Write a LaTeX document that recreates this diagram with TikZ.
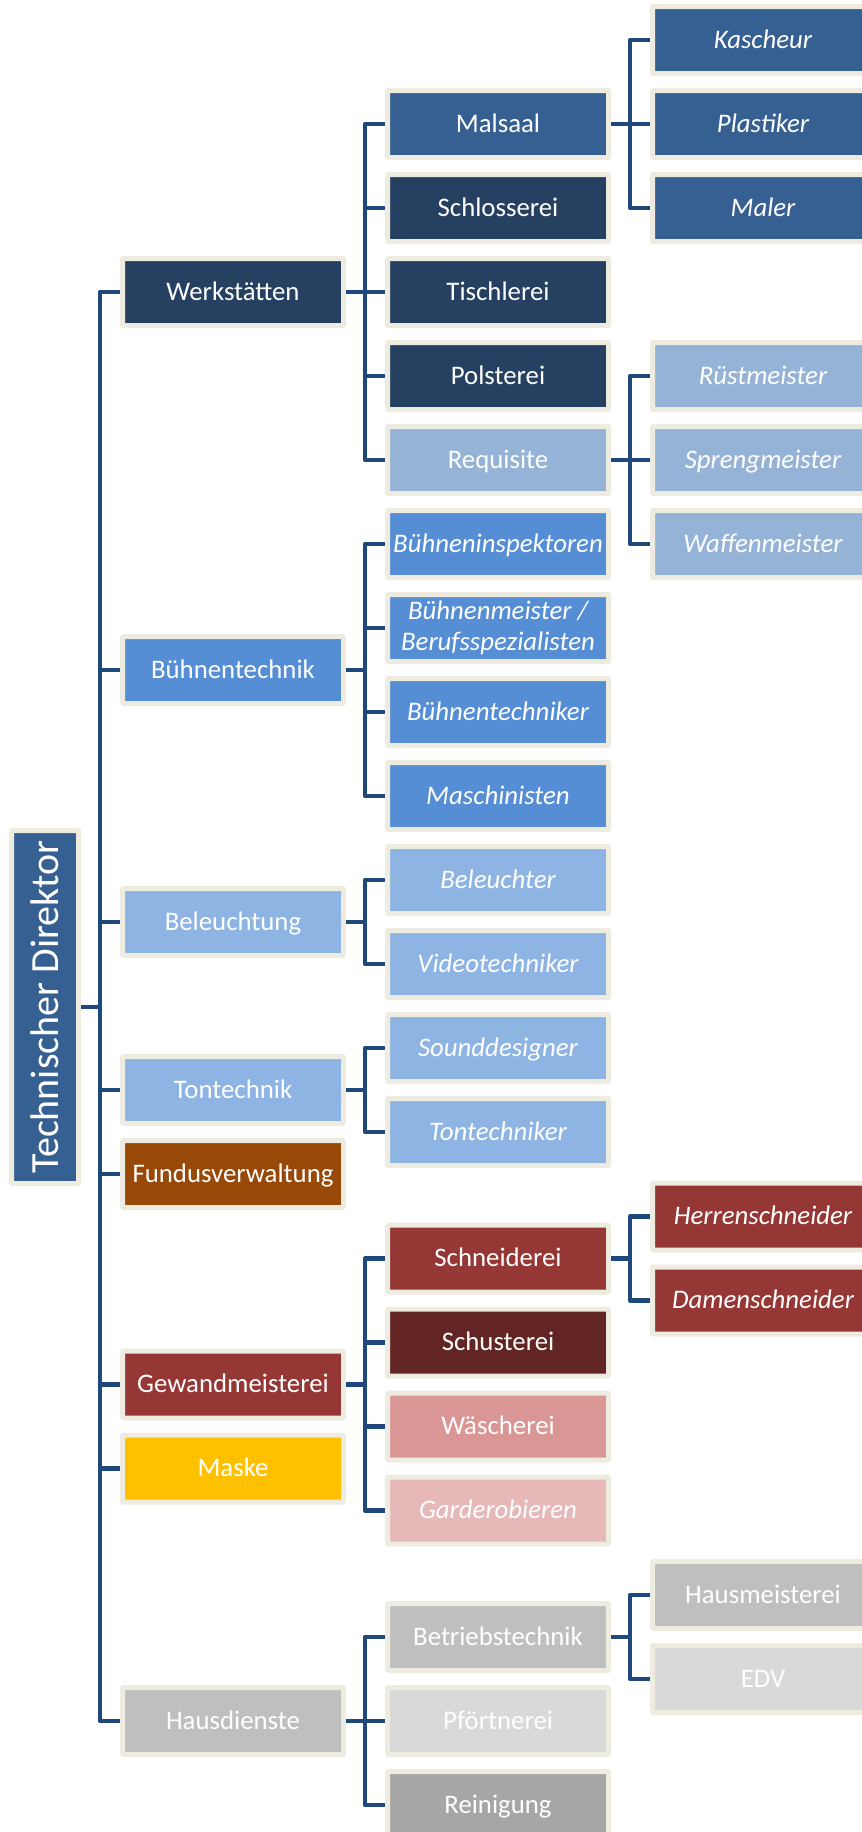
\documentclass[tikz,border=0pt]{standalone}
\usepackage{fontspec}
\setmainfont{Carlito}
\definecolor{conncol}{HTML}{1F497D}
\definecolor{bord}{HTML}{EEECE1}
\definecolor{midblue}{HTML}{376092}
\definecolor{darkblue}{HTML}{254061}
\definecolor{greyblue}{HTML}{95B3D7}
\definecolor{brightblue}{HTML}{558ED5}
\definecolor{lightblue}{HTML}{8EB4E3}
\definecolor{brown}{HTML}{984807}
\definecolor{red}{HTML}{953735}
\definecolor{darkred}{HTML}{632523}
\definecolor{pink}{HTML}{D99694}
\definecolor{lightpink}{HTML}{E6B9B8}
\definecolor{gold}{HTML}{FFC000}
\definecolor{grey}{HTML}{BFBFBF}
\definecolor{lightgrey}{HTML}{D9D9D9}
\definecolor{darkgrey}{HTML}{A6A6A6}
\begin{document}
\begin{tikzpicture}[x=1pt,y=-1pt,
  nbox/.style={draw=bord, line width=5pt, rounded corners=1pt, minimum width=221pt, minimum height=67pt,
    inner sep=0pt, text=white, font=\fontsize{26.8}{30.5}\selectfont},
  box/.style={nbox, text height=16.5pt, text depth=0pt},
  it/.style={font=\fontsize{26.8}{30.5}\selectfont\itshape},
  conn/.style={draw=conncol, line width=4.7pt, line join=round}]
\useasboundingbox (0,0) rectangle (862,1832);
\clip (0,0) rectangle (862,1832);

% root
\node[nbox, fill=midblue, minimum width=67pt, minimum height=353pt] (td) at (45,1007)
  {\rotatebox{90}{\fontsize{40}{48}\selectfont Technischer Direktor}};

% column 1
\node[box, fill=darkblue] (werk) at (233,292) {Werkstätten};
\node[box, fill=brightblue] (buehne) at (233,670) {Bühnentechnik};
\node[box, fill=lightblue] (bel) at (233,922) {Beleuchtung};
\node[box, fill=lightblue] (ton) at (233,1090) {Tontechnik};
\node[box, fill=brown] (fundus) at (233,1174) {Fundusverwaltung};
\node[box, fill=red] (gewand) at (233,1384.5) {Gewandmeisterei};
\node[box, fill=gold] (maske) at (233,1468.5) {Maske};
\node[box, fill=grey] (haus) at (233,1721) {Hausdienste};

% column 2
\node[box, fill=midblue] (malsaal) at (498,124) {Malsaal};
\node[box, fill=darkblue] (schloss) at (498,208) {Schlosserei};
\node[box, fill=darkblue] (tisch) at (498,292) {Tischlerei};
\node[box, fill=darkblue] (polster) at (498,376) {Polsterei};
\node[box, fill=greyblue] (requ) at (498,460) {Requisite};
\node[box, it, fill=brightblue] (binsp) at (498,544) {Bühneninspektoren};
\node[nbox, it, fill=brightblue, align=center] (bmeist) at (498,628) {Bühnenmeister /\\Berufsspezialisten};
\node[box, it, fill=brightblue] (btech) at (498,712) {Bühnentechniker};
\node[box, it, fill=brightblue] (masch) at (498,796) {Maschinisten};
\node[box, it, fill=lightblue] (beleuchter) at (498,880) {Beleuchter};
\node[box, it, fill=lightblue] (video) at (498,964) {Videotechniker};
\node[box, it, fill=lightblue] (sound) at (498,1048) {Sounddesigner};
\node[box, it, fill=lightblue] (tontech) at (498,1132) {Tontechniker};
\node[box, fill=red] (schneid) at (498,1258.5) {Schneiderei};
\node[box, fill=darkred] (schust) at (498,1342.5) {Schusterei};
\node[box, fill=pink] (waesch) at (498,1426.5) {Wäscherei};
\node[box, it, fill=lightpink] (garde) at (498,1510.5) {Garderobieren};
\node[box, fill=grey] (betrieb) at (498,1637) {Betriebstechnik};
\node[box, fill=lightgrey] (pfoert) at (498,1721) {Pförtnerei};
\node[box, fill=darkgrey] (rein) at (498,1805) {Reinigung};

% column 3
\node[box, it, fill=midblue] (kasch) at (763,40) {Kascheur};
\node[box, it, fill=midblue] (plast) at (763,124) {Plastiker};
\node[box, it, fill=midblue] (maler) at (763,208) {Maler};
\node[box, it, fill=greyblue] (ruest) at (763,376) {Rüstmeister};
\node[box, it, fill=greyblue] (spreng) at (763,460) {Sprengmeister};
\node[box, it, fill=greyblue] (waffen) at (763,544) {Waffenmeister};
\node[box, it, fill=red] (herren) at (763,1216.5) {Herrenschneider};
\node[box, it, fill=red] (damen) at (763,1300.5) {Damenschneider};
\node[box, fill=grey] (hausm) at (763,1595) {Hausmeisterei};
\node[box, fill=lightgrey] (edv) at (763,1679) {EDV};

% connectors
\foreach \c in {werk,buehne,bel,ton,fundus,gewand,maske,haus}
  \draw[conn] (td.east) -- ++(19,0) |- (\c.west);
\foreach \c in {malsaal,schloss,tisch,polster,requ}
  \draw[conn] (werk.east) -- ++(19,0) |- (\c.west);
\foreach \c in {binsp,bmeist,btech,masch}
  \draw[conn] (buehne.east) -- ++(19,0) |- (\c.west);
\foreach \c in {beleuchter,video}
  \draw[conn] (bel.east) -- ++(19,0) |- (\c.west);
\foreach \c in {sound,tontech}
  \draw[conn] (ton.east) -- ++(19,0) |- (\c.west);
\foreach \c in {schneid,schust,waesch,garde}
  \draw[conn] (gewand.east) -- ++(19,0) |- (\c.west);
\foreach \c in {betrieb,pfoert,rein}
  \draw[conn] (haus.east) -- ++(19,0) |- (\c.west);
\foreach \c in {kasch,plast,maler}
  \draw[conn] (malsaal.east) -- ++(19,0) |- (\c.west);
\foreach \c in {ruest,spreng,waffen}
  \draw[conn] (requ.east) -- ++(19,0) |- (\c.west);
\foreach \c in {herren,damen}
  \draw[conn] (schneid.east) -- ++(19,0) |- (\c.west);
\foreach \c in {hausm,edv}
  \draw[conn] (betrieb.east) -- ++(19,0) |- (\c.west);
\end{tikzpicture}
\end{document}
